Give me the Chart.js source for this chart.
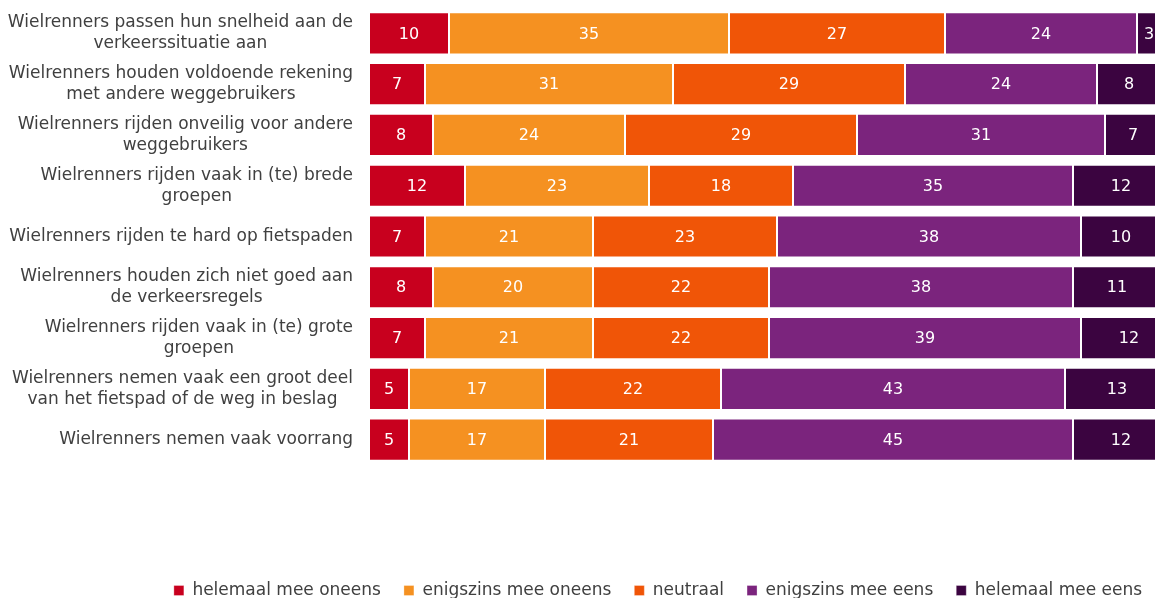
<!DOCTYPE html>
<html>
<head>
<meta charset="utf-8">
<script src="https://cdn.jsdelivr.net/npm/chart.js@4"></script>
<style>
  html, body { margin: 0; padding: 0; background: #fff; overflow: hidden; }
  #wrap { width: 1316px; height: 609px; }
</style>
</head>
<body>
<div id="wrap"><canvas id="myChart"></canvas></div>
<script>
const ctx = document.getElementById('myChart').getContext('2d');

const labels = [
    ['Wielrenners passen hun snelheid aan de', 'verkeerssituatie aan'],
    ['Wielrenners houden voldoende rekening', 'met andere weggebruikers'],
    ['Wielrenners rijden onveilig voor andere', 'weggebruikers'],
    ['Wielrenners rijden vaak in (te) brede', 'groepen'],
    ['Wielrenners rijden te hard op fietspaden'],
    ['Wielrenners houden zich niet goed aan', 'de verkeersregels'],
    ['Wielrenners rijden vaak in (te) grote', 'groepen'],
    ['Wielrenners nemen vaak een groot deel', 'van het fietspad of de weg in beslag'],
    ['Wielrenners nemen vaak voorrang']
];

const seriesNames = [
    'helemaal mee oneens',
    'enigszins mee oneens',
    'neutraal',
    'enigszins mee eens',
    'helemaal mee eens'
];

const helemaalOneens  = [10, 7, 8, 12, 7, 8, 7, 5, 5];
const enigszinsOneens = [35, 31, 24, 23, 21, 20, 21, 17, 17];
const neutraal        = [27, 29, 29, 18, 23, 22, 22, 22, 21];
const enigszinsEens   = [24, 24, 31, 35, 38, 38, 39, 43, 45];
const helemaalEens    = [3, 8, 7, 12, 10, 11, 12, 13, 12];

const colors = ['#c8001e', '#f59121', '#f05507', '#7b247d', '#3b0440'];

const fontFamily = '"DejaVu Sans", Verdana, sans-serif';
const textColor = '#404040';

const data = {
    labels,
    datasets: [helemaalOneens, enigszinsOneens, neutraal, enigszinsEens, helemaalEens].map((values, i) => ({
        label: seriesNames[i],
        data: values,
        backgroundColor: colors[i],
        borderColor: 'rgba(255,255,255,0.3)',
        borderWidth: 1,
        borderSkipped: false,
        categoryPercentage: 1,
        barPercentage: 0.83
    }))
};

// value labels in the middle of every segment
const segmentLabels = {
    id: 'segmentLabels',
    afterDatasetsDraw(chart) {
        const c = chart.ctx;
        c.save();
        c.font = '16px ' + fontFamily;
        c.fillStyle = '#ffffff';
        c.textAlign = 'center';
        c.textBaseline = 'middle';
        chart.data.datasets.forEach((ds, di) => {
            chart.getDatasetMeta(di).data.forEach((bar, i) => {
                const x = (bar.x + bar.base) / 2;
                c.fillText(ds.data[i], x, bar.y + 1);
            });
        });
        c.restore();
    }
};

// category labels: block right aligned against the bars, lines centred in the block
const categoryLabels = {
    id: 'categoryLabels',
    afterDraw(chart) {
        const c = chart.ctx;
        const yScale = chart.scales.y;
        const right = chart.chartArea.left - 16;
        const lineHeight = 21;
        c.save();
        c.font = '17px ' + fontFamily;
        c.fillStyle = textColor;
        c.textAlign = 'center';
        c.textBaseline = 'middle';
        chart.data.labels.forEach((lines, i) => {
            const w = Math.max(...lines.map(l => c.measureText(l).width));
            const cx = right - w / 2;
            const cy = yScale.getPixelForValue(i);
            const top = cy - (lines.length - 1) * lineHeight / 2;
            lines.forEach((l, j) => c.fillText(l, cx, top + j * lineHeight));
        });
        c.restore();
    }
};

const config = {
    type: 'bar',
    data: data,
    options: {
        indexAxis: 'y',
        responsive: true,
        maintainAspectRatio: false,
        animation: false,
        layout: {
            padding: { top: 8, left: 0, right: 0, bottom: 0 }
        },
        scales: {
            x: {
                stacked: true,
                min: 0,
                max: 100,
                grid: { display: false },
                border: { display: false },
                ticks: { display: false },
                afterFit: (scale) => { scale.height = 94; }
            },
            y: {
                stacked: true,
                grid: { display: false },
                border: { display: false },
                ticks: { display: false },
                afterFit: (scale) => { scale.width = 369; }
            },
            yRight: {
                type: 'category',
                position: 'right',
                grid: { display: false },
                border: { display: false },
                ticks: { display: false },
                afterFit: (scale) => { scale.width = 147; }
            }
        },
        plugins: {
            tooltip: { enabled: false },
            legend: {
                position: 'bottom',
                labels: {
                    boxWidth: 10,
                    boxHeight: 10,
                    padding: 23,
                    color: textColor,
                    font: { family: fontFamily, size: 17 }
                }
            }
        }
    },
    plugins: [segmentLabels, categoryLabels]
};

const myChart = new Chart(ctx, config);
</script>
</body>
</html>
